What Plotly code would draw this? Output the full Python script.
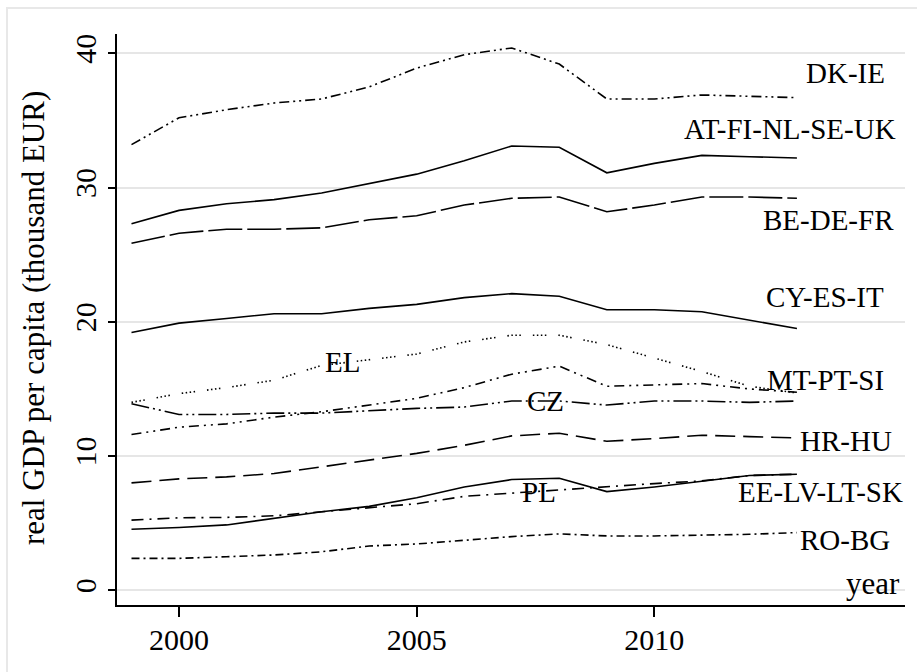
import plotly.graph_objects as go

# Real GDP per capita by country group, 1999-2013 (thousand EUR)
years = [1999, 2000, 2001, 2002, 2003, 2004, 2005, 2006, 2007, 2008, 2009, 2010, 2011, 2012, 2013]

dk_ie = [33.2, 35.2, 35.8, 36.3, 36.6, 37.5, 38.9, 39.9, 40.4, 39.2, 36.6, 36.6, 36.9, 36.8, 36.7]
at_fi_nl_se_uk = [27.3, 28.3, 28.8, 29.1, 29.6, 30.3, 31.0, 32.0, 33.1, 33.0, 31.1, 31.8, 32.4, 32.3, 32.2]
be_de_fr = [25.85, 26.6, 26.9, 26.9, 27.0, 27.6, 27.9, 28.7, 29.2, 29.3, 28.2, 28.7, 29.3, 29.3, 29.2]
cy_es_it = [19.2, 19.9, 20.25, 20.6, 20.6, 21.0, 21.3, 21.8, 22.1, 21.9, 20.9, 20.9, 20.75, 20.1, 19.5]
el = [14.0, 14.65, 15.1, 15.65, 16.75, 17.15, 17.6, 18.5, 19.0, 19.0, 18.3, 17.3, 16.3, 15.2, 14.7]
mt_pt_si = [11.6, 12.15, 12.4, 12.9, 13.3, 13.8, 14.3, 15.1, 16.1, 16.7, 15.2, 15.3, 15.4, 15.0, 14.75]
cz = [13.9, 13.1, 13.1, 13.2, 13.2, 13.4, 13.55, 13.65, 14.1, 14.1, 13.8, 14.1, 14.1, 14.0, 14.1]
hr_hu = [8.0, 8.3, 8.45, 8.7, 9.2, 9.7, 10.2, 10.8, 11.5, 11.7, 11.1, 11.3, 11.55, 11.45, 11.35]
ee_lv_lt_sk = [4.55, 4.68, 4.87, 5.35, 5.85, 6.25, 6.9, 7.7, 8.25, 8.35, 7.35, 7.7, 8.15, 8.55, 8.65]
pl = [5.23, 5.4, 5.43, 5.55, 5.85, 6.15, 6.45, 7.0, 7.25, 7.5, 7.75, 7.95, 8.15, 8.55, 8.65]
ro_bg = [2.38, 2.38, 2.5, 2.63, 2.87, 3.3, 3.45, 3.75, 4.0, 4.2, 4.05, 4.05, 4.1, 4.17, 4.3]

x_ticks = [2000, 2005, 2010]
y_ticks = [0, 10, 20, 30, 40]

series = [
    ("DK-IE", dk_ie, "10px,4px,2px,4px,2px,4px"),
    ("AT-FI-NL-SE-UK", at_fi_nl_se_uk, "solid"),
    ("BE-DE-FR", be_de_fr, "34px,5px"),
    ("CY-ES-IT", cy_es_it, "solid"),
    ("EL", el, "1.5px,2.5px,1.5px,2.5px,1.5px,2.5px,1.5px,12px"),
    ("MT-PT-SI", mt_pt_si, "10px,5px,2px,5px,2px,5px"),
    ("CZ", cz, "18px,4px,2px,4px,2px,4px"),
    ("HR-HU", hr_hu, "20px,8px"),
    ("EE-LV-LT-SK", ee_lv_lt_sk, "solid"),
    ("PL", pl, "12px,6px,2px,6px"),
    ("RO-BG", ro_bg, "8px,4px,2px,4px"),
]

# label text and its centre (year, value)
label_text = ["DK-IE", "AT-FI-NL-SE-UK", "BE-DE-FR", "CY-ES-IT", "MT-PT-SI",
              "HR-HU", "EE-LV-LT-SK", "RO-BG", "EL", "CZ", "PL"]
label_x = [2014.03, 2012.85, 2013.67, 2013.59, 2013.61, 2014.03, 2013.49, 2014.01,
           2003.43, 2007.72, 2007.57]
label_y = [38.57, 34.36, 27.58, 21.84, 15.67, 11.15, 7.35, 3.78, 17.0, 14.1, 7.32]

SERIF = "Liberation Serif, Times New Roman, serif"

fig = go.Figure()
for name, vals, dash in series:
    fig.add_trace(go.Scatter(
        x=years, y=vals, mode="lines", name=name,
        line=dict(color="black", width=1.6, dash=dash),
        showlegend=False,
    ))

for t, lx, ly in zip(label_text, label_x, label_y):
    fig.add_annotation(x=lx, y=ly, xref="x", yref="y", text=t, showarrow=False,
                       xanchor="center", yanchor="middle",
                       font=dict(family=SERIF, size=29, color="black"))

# x axis title sits at the right end, just above the axis
fig.add_annotation(x=2014.6, y=0.47, xref="x", yref="y", text="year", showarrow=False,
                   xanchor="center", yanchor="middle",
                   font=dict(family=SERIF, size=31, color="black"))

# y axis title
fig.add_annotation(x=-0.1066, y=0.5026, xref="paper", yref="paper",
                   text="real GDP per capita (thousand EUR)", textangle=-90,
                   showarrow=False, xanchor="center", yanchor="middle",
                   font=dict(family=SERIF, size=31, color="black"))

# outer graph-region frame
fig.add_shape(type="rect", xref="paper", yref="paper",
              x0=-0.1396, x1=1.03, y0=-0.14, y1=1.0455,
              line=dict(color="#e8e8e8", width=2), fillcolor="rgba(0,0,0,0)", layer="below")

fig.update_layout(
    width=917, height=672,
    margin=dict(l=117, r=12, t=34, b=67),
    paper_bgcolor="white", plot_bgcolor="white",
    font=dict(family=SERIF, color="black"),
    xaxis=dict(
        range=[1998.695, 2015.274], tickvals=x_ticks,
        showgrid=False, zeroline=False,
        showline=True, linecolor="black", linewidth=1.5,
        ticks="outside", ticklen=10, tickwidth=1.5, tickcolor="black",
        ticklabelstandoff=-3,
        tickfont=dict(family=SERIF, size=30, color="black"),
    ),
    yaxis=dict(
        range=[-1.095, 41.44], tickvals=y_ticks, tickangle=-90,
        showgrid=True, gridcolor="#e6e6e6", gridwidth=1.5, zeroline=False,
        showline=True, linecolor="black", linewidth=1.5,
        ticks="outside", ticklen=7, tickwidth=1.5, tickcolor="black",
        tickfont=dict(family=SERIF, size=30, color="black"),
    ),
)

fig.write_html("out.html")
